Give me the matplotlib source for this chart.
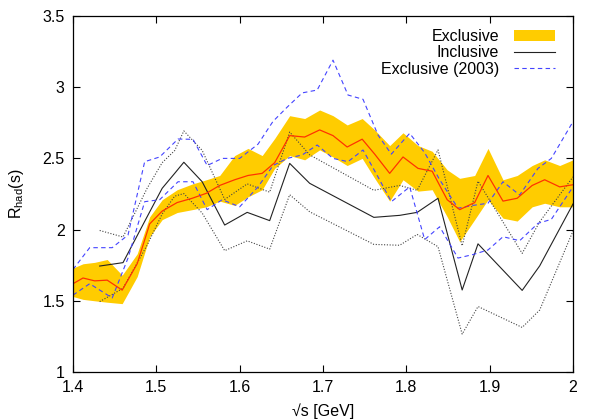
import matplotlib
matplotlib.use('Agg')
import matplotlib.pyplot as plt
import numpy as np

plt.rcParams['font.family'] = 'sans-serif'
plt.rcParams['font.sans-serif'] = ['Liberation Sans']
plt.rcParams['mathtext.fontset'] = 'custom'
plt.rcParams['mathtext.rm'] = 'Liberation Sans'

# Exclusive (band + central value)
excl_x = [1.400, 1.412, 1.426, 1.441, 1.459, 1.477, 1.492, 1.507, 1.525, 1.543,
          1.560, 1.576, 1.594, 1.610, 1.627, 1.642, 1.660, 1.678, 1.696, 1.712,
          1.729, 1.747, 1.762, 1.780, 1.796, 1.814, 1.831, 1.849, 1.864, 1.882,
          1.898, 1.916, 1.933, 1.951, 1.966, 1.984, 2.000]
excl_hi = [1.73, 1.76, 1.77, 1.79, 1.68, 1.83, 2.09, 2.21, 2.28, 2.32,
           2.35, 2.38, 2.52, 2.57, 2.52, 2.64, 2.80, 2.78, 2.84, 2.80,
           2.735, 2.78, 2.70, 2.59, 2.68, 2.59, 2.55, 2.42, 2.36, 2.38,
           2.57, 2.35, 2.38, 2.45, 2.49, 2.45, 2.49]
excl_lo = [1.53, 1.51, 1.50, 1.49, 1.48, 1.67, 1.95, 2.07, 2.12, 2.14,
           2.16, 2.20, 2.17, 2.23, 2.28, 2.43, 2.52, 2.49, 2.56, 2.51,
           2.45, 2.50, 2.36, 2.20, 2.35, 2.27, 2.28, 2.09, 1.915, 2.07,
           2.21, 2.08, 2.06, 2.16, 2.185, 2.16, 2.16]
excl_c = [1.62, 1.66, 1.64, 1.645, 1.575, 1.76, 2.04, 2.13, 2.19, 2.22,
          2.255, 2.31, 2.35, 2.38, 2.395, 2.47, 2.66, 2.65, 2.70, 2.66,
          2.58, 2.635, 2.53, 2.395, 2.51, 2.43, 2.41, 2.21, 2.14, 2.19,
          2.38, 2.20, 2.22, 2.31, 2.35, 2.30, 2.315]

# Inclusive (central value and error)
incl_x = [1.432, 1.460, 1.489, 1.507, 1.522, 1.533, 1.555, 1.582, 1.609, 1.636,
          1.660, 1.684, 1.761, 1.792, 1.813, 1.838, 1.867, 1.886, 1.939, 1.960, 2.000]
incl_y = [1.744, 1.768, 2.091, 2.29, 2.395, 2.473, 2.336, 2.032, 2.121, 2.063,
          2.465, 2.325, 2.086, 2.10, 2.121, 2.22, 1.576, 1.900, 1.573, 1.745, 2.18]
incl_err = [0.25, 0.18, 0.20, 0.18, 0.16, 0.22, 0.22, 0.18, 0.20, 0.20,
            0.22, 0.20, 0.19, 0.21, 0.155, 0.34, 0.31, 0.44, 0.26, 0.31, 0.19]

# Exclusive (2003) upper / lower
old_x = [1.400, 1.420, 1.447, 1.466, 1.486, 1.504, 1.526, 1.544, 1.561, 1.579,
         1.600, 1.622, 1.640, 1.657, 1.675, 1.693, 1.712, 1.730, 1.748, 1.766,
         1.782, 1.804, 1.822, 1.840, 1.862, 1.880, 1.898, 1.916, 1.936, 1.958,
         1.974, 2.000]
old_hi = [1.72, 1.873, 1.873, 1.962, 2.477, 2.51, 2.636, 2.634, 2.45, 2.50,
          2.50, 2.60, 2.76, 2.86, 2.96, 2.98, 3.19, 2.945, 2.915, 2.664,
          2.53, 2.676, 2.54, 2.35, 2.15, 2.17, 2.185, 2.336, 2.243, 2.43,
          2.50, 2.758]
old_lo = [1.54, 1.62, 1.52, 1.80, 2.196, 2.21, 2.336, 2.336, 2.14, 2.21,
          2.16, 2.30, 2.45, 2.50, 2.524, 2.594, 2.50, 2.477, 2.559, 2.37,
          2.196, 2.30, 1.93, 2.02, 1.80, 1.825, 1.857, 1.95, 1.922, 2.044,
          2.072, 2.30]

incl_y = np.array(incl_y)
incl_err = np.array(incl_err)

fig = plt.figure(figsize=(5.99, 4.2), dpi=100)
ax = fig.add_axes([0.1219, 0.1143, 0.8347, 0.8476])

ax.fill_between(excl_x, excl_lo, excl_hi, color='#ffcc00', lw=0, label='Exclusive')
ax.plot(incl_x, incl_y, color='#222222', lw=0.8, label='Inclusive')
ax.plot(incl_x, incl_y + incl_err, color='#444444', lw=0.8, ls=(0, (1, 1.5)))
ax.plot(incl_x, incl_y - incl_err, color='#444444', lw=0.8, ls=(0, (1, 1.5)))
ax.plot(old_x, old_hi, color='#4444ff', lw=0.8, ls=(0, (4, 3)), label='Exclusive (2003)')
ax.plot(old_x, old_lo, color='#4444ff', lw=0.8, ls=(0, (4, 3)))
ax.plot(excl_x, excl_c, color='#ff3300', lw=0.9)

ax.set_xlim(1.4, 2.0)
ax.set_ylim(1, 3.5)
ax.set_xticks([1.4, 1.5, 1.6, 1.7, 1.8, 1.9, 2.0])
ax.set_xticklabels(['1.4', '1.5', '1.6', '1.7', '1.8', '1.9', '2'])
ax.set_yticks([1, 1.5, 2, 2.5, 3, 3.5])
ax.set_yticklabels(['1', '1.5', '2', '2.5', '3', '3.5'])
ax.tick_params(direction='in', top=True, right=True, length=5, width=0.8,
               labelsize=11.5, pad=6)
for s in ax.spines.values():
    s.set_linewidth(0.9)

ax.set_xlabel('√s [GeV]', fontsize=11.5, labelpad=6)
ax.set_ylabel(r'R$_{\rm had}$(s)', fontsize=11.5, labelpad=12)

ax.legend(loc='upper right', frameon=False, markerfirst=False, fontsize=11.5,
          handlelength=2.6, handletextpad=0.9, labelspacing=0.1,
          borderaxespad=0.4, bbox_to_anchor=(0.99, 1.0))

fig.savefig('out.png', dpi=100)
